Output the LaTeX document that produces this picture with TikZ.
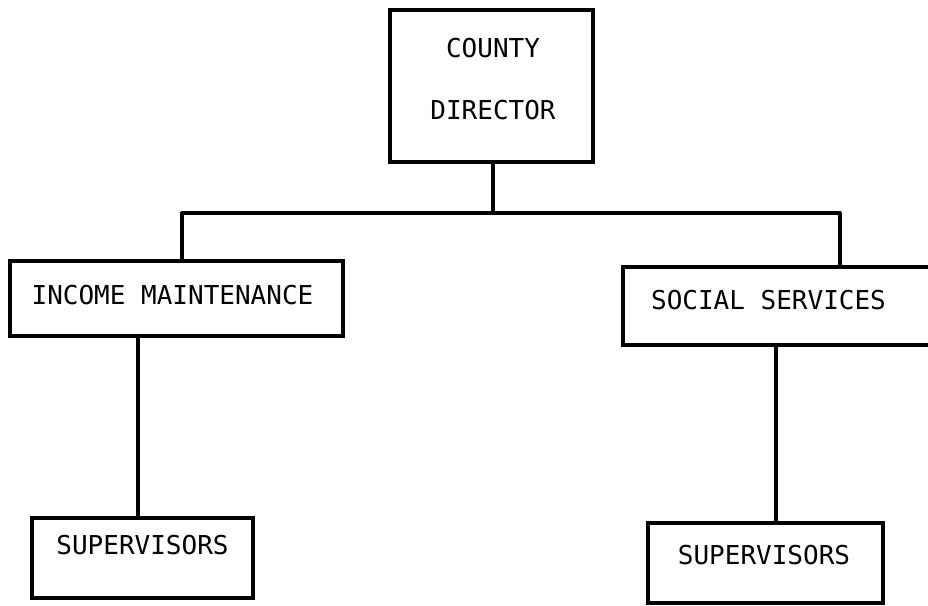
\documentclass[tikz,border=0pt]{standalone}
\usepackage{fontspec}
\newfontfamily\chartfont{DejaVu Sans Mono}
\begin{document}
\begin{tikzpicture}[x=1pt,y=-1pt,
  orgbox/.style={draw=black, line width=3.2pt, rectangle, inner sep=0pt},
  every label/.style={font=\chartfont\fontsize{26}{62}\selectfont, align=center, inner sep=0pt},
  link/.style={draw=black, line width=3.2pt, line cap=round}]
\useasboundingbox (0,0) rectangle (928,605);
\clip (0,0) rectangle (928,605);

% boxes, each with its caption set inside it
\node[orgbox, minimum width=203pt, minimum height=152pt,
  label={[xshift=1.5pt, yshift=7pt]center:{COUNTY\\DIRECTOR}}] (county) at (491.5,86) {};
\node[orgbox, minimum width=333pt, minimum height=75pt,
  label={[xshift=-4pt, yshift=3pt]center:INCOME MAINTENANCE}] (income) at (176.5,298.5) {};
\node[orgbox, minimum width=316pt, minimum height=78pt,
  label={[xshift=-12.5pt, yshift=6pt]center:SOCIAL SERVICES}] (social) at (781,306) {};
\node[orgbox, minimum width=221pt, minimum height=80pt,
  label={[yshift=13pt]center:SUPERVISORS}] (supL) at (142.5,558) {};
\node[orgbox, minimum width=235pt, minimum height=80pt,
  label={[xshift=-1.5pt, yshift=8pt]center:SUPERVISORS}] (supR) at (765.5,563) {};

% junction points on the cross bar
\coordinate (bar) at (493,213);
\coordinate (barL) at (182,213);
\coordinate (barR) at (840,213);

% connectors
\draw[link] (county.south -| bar) -- (bar);
\draw[link] (barL) -- (barR);
\draw[link] (barL) -- (barL |- income.north);
\draw[link] (barR) -- (barR |- social.north);
\draw[link] (income.south -| 138,0) -- (supL.north -| 138,0);
\draw[link] (social.south -| 776,0) -- (supR.north -| 776,0);
\end{tikzpicture}
\end{document}
